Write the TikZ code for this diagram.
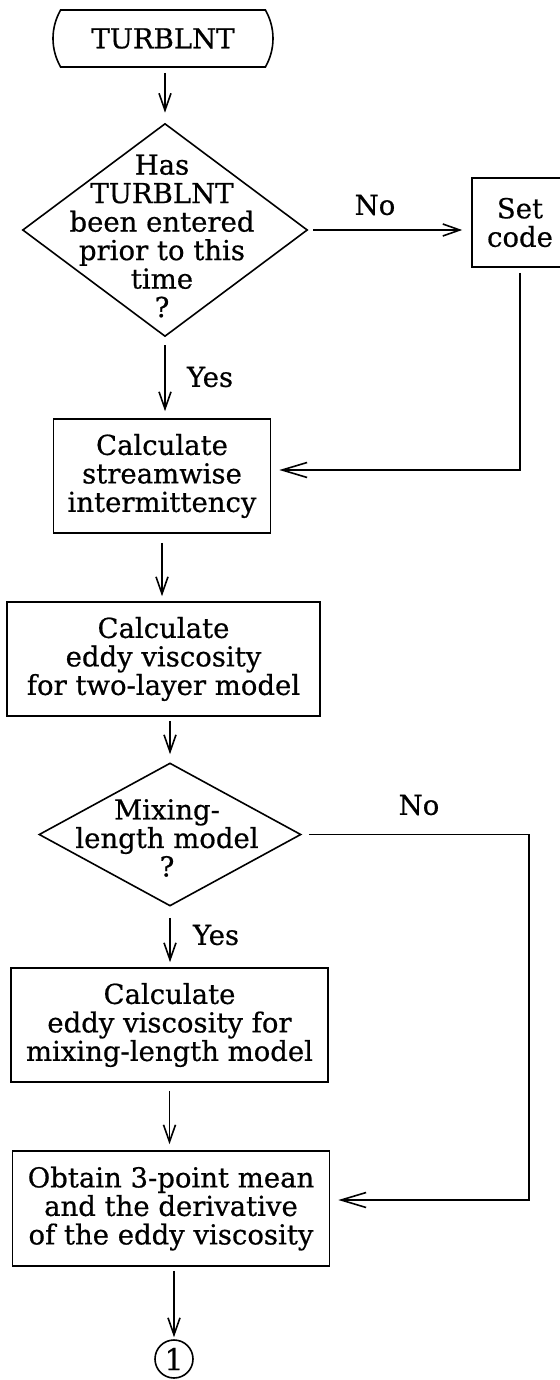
\documentclass[tikz,border=0pt]{standalone}
\usepackage{fontspec}
\setmainfont{DejaVu Serif}[FakeBold=0.6]
\usetikzlibrary{arrows.meta,shapes.geometric,shapes.misc}

\begin{document}
\begin{tikzpicture}[x=1pt,y=-1pt,
  line width=1.6pt,
  every node/.style={font=\fontsize{27.5}{28.5}\selectfont, align=center, inner sep=0pt},
  terminal/.style={draw, rounded rectangle, rounded rectangle arc length=60,
                   minimum width=220pt, minimum height=57pt},
  procbox/.style={draw, rectangle, minimum height=114pt},
  decision/.style={draw, diamond, inner sep=0pt},
  connector/.style={draw, circle, minimum size=38pt, font=\fontsize{30}{30}\selectfont},
  flow/.style={-{Straight Barb[length=17pt,width=12pt]}},
  backflow/.style={-{Straight Barb[length=25pt,width=15pt]}},
  ]
\useasboundingbox (0,0) rectangle (559,1380);

% entry point
\node[terminal] (term) at (163,38.5) {TURBLNT};

% first-entry test
\node[decision, minimum width=285pt, minimum height=213pt] (d1) at (165,230) {};
\node (d1txt) at (162,236) {Has\\TURBLNT\\been entered\\prior to this\\time\\?};

\node[procbox, minimum width=96pt, minimum height=89pt] (setcode) at (520,222.5) {Set\\code};

\node[procbox, minimum width=217pt] (stream) at (162,476)
  {Calculate\\streamwise\\intermittency};
\node[procbox, minimum width=313pt] (twolayer) at (163.5,659)
  {Calculate\\eddy viscosity\\for two-layer model};

% model choice
\node[decision, minimum width=262pt, minimum height=143pt] (d2) at (170,834.5) {};
\node (d2txt) at (167,838) {Mixing-\\length model\\?};

\node[procbox, minimum width=317pt] (mixlen) at (169.5,1025)
  {Calculate\\eddy viscosity for\\mixing-length model};
\node[procbox, minimum width=317pt, minimum height=115pt] (mean) at (171,1208.5)
  {Obtain 3-point mean\\and the derivative\\of the eddy viscosity};

\node[connector] (c1) at (174,1359) {1};

% branch labels
\node (no1) at (375,205) {No};
\node (yes1) at (210,377) {Yes};
\node (no2) at (419,805) {No};
\node (yes2) at (216,935) {Yes};

\coordinate (k2) at (529,834.5);

% main column
\draw[flow, shorten <=5pt, shorten >=10pt] (term.south -| d1.north) -- (d1.north);
\draw[flow, shorten <=8pt, shorten >=7pt] (d1.south) -- (d1.south |- stream.north);
\draw[flow, shorten <=9pt, shorten >=5pt] (stream.south) -- (stream.south |- twolayer.north);
\draw[flow, shorten <=4pt, shorten >=8pt] (twolayer.south -| d2.north) -- (d2.north);
\draw[flow, shorten <=11pt, shorten >=5pt] (d2.south) -- (d2.south |- mixlen.north);
\draw[flow, shorten <=8pt, shorten >=6pt] (mixlen.south) -- (mixlen.south |- mean.north);
\draw[flow, shorten <=4pt, shorten >=2pt] (mean.south -| c1.north) -- (c1.north);

% side branches
\draw[flow, shorten <=5pt, shorten >=9pt] (d1.east) -- (d1.east -| setcode.west);
\draw[backflow, shorten <=5pt, shorten >=8pt] (setcode.south) |- ([yshift=6pt]stream.east);
\draw[backflow, shorten <=7pt, shorten >=8pt] (d2.east) -- (k2) |- ([yshift=8.5pt]mean.east);

\end{tikzpicture}
\end{document}
